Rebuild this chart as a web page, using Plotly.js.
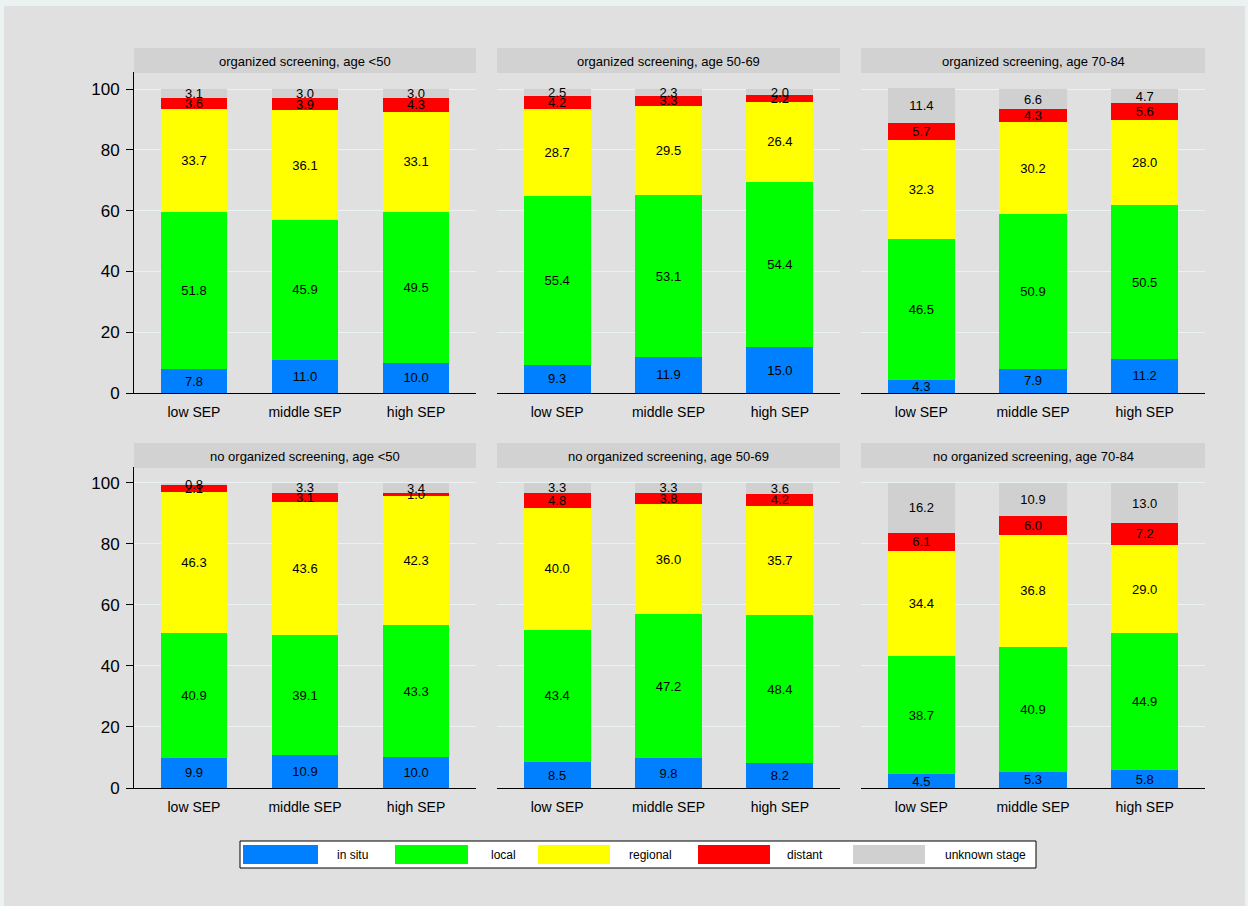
<!DOCTYPE html>
<html>
<head>
<meta charset="utf-8">
<script src="https://cdn.plot.ly/plotly-3.0.1.min.js"></script>
<style>html,body{margin:0;padding:0;background:#eaf2f2;}#chart{width:1248px;height:906px;}</style>
</head>
<body>
<div id="chart"></div>
<script>
const categories = ['low SEP', 'middle SEP', 'high SEP'];
const stages = ['in situ', 'local', 'regional', 'distant', 'unknown stage'];
const stageColors = ['#0080ff', '#00ff00', '#ffff00', '#ff0000', '#d0d0d0'];
const panelTitles = [
  'organized screening, age <50', 'organized screening, age 50-69', 'organized screening, age 70-84',
  'no organized screening, age <50', 'no organized screening, age 50-69', 'no organized screening, age 70-84'
];
const yTicks = [0, 20, 40, 60, 80, 100];

// values per panel (low, middle, high SEP)
const inSitu   = [[7.8, 11.0, 10.0], [9.3, 11.9, 15.0], [4.3, 7.9, 11.2], [9.9, 10.9, 10.0], [8.5, 9.8, 8.2], [4.5, 5.3, 5.8]];
const local    = [[51.8, 45.9, 49.5], [55.4, 53.1, 54.4], [46.5, 50.9, 50.5], [40.9, 39.1, 43.3], [43.4, 47.2, 48.4], [38.7, 40.9, 44.9]];
const regional = [[33.7, 36.1, 33.1], [28.7, 29.5, 26.4], [32.3, 30.2, 28.0], [46.3, 43.6, 42.3], [40.0, 36.0, 35.7], [34.4, 36.8, 29.0]];
const distant  = [[3.6, 3.9, 4.3], [4.2, 3.3, 2.2], [5.7, 4.3, 5.6], [2.1, 3.1, 1.0], [4.8, 3.8, 4.2], [6.1, 6.0, 7.2]];
const unknown  = [[3.1, 3.0, 3.0], [2.5, 2.3, 2.0], [11.4, 6.6, 4.7], [0.8, 3.3, 3.4], [3.3, 3.3, 3.6], [16.2, 10.9, 13.0]];
const stageData = [inSitu, local, regional, distant, unknown];

const W = 1248, H = 906;
const px = x => x / W;
const py = y => 1 - y / H;

const colX = [[134, 476], [497, 840], [861, 1205]];
const rowY = [[72, 393], [467, 788]];
const stripY = [[48, 73], [443, 468]];

const traces = [];
const layout = {
  width: W, height: H,
  margin: {l: 0, r: 0, t: 0, b: 0},
  paper_bgcolor: '#eaf2f2',
  plot_bgcolor: '#ffffff',
  barmode: 'stack',
  showlegend: false,
  font: {family: 'Liberation Sans, Arial, sans-serif', color: '#000', size: 13},
  uniformtext: {mode: 'show', minsize: 13},
  shapes: [],
  annotations: []
};

layout.shapes.push({type: 'rect', xref: 'paper', yref: 'paper', x0: px(4), x1: px(1245), y0: py(906), y1: py(6),
  fillcolor: '#e0e0e0', line: {width: 0}, layer: 'below'});

for (let p = 0; p < 6; p++) {
  const r = Math.floor(p / 3), c = p % 3;
  const ax = p === 0 ? '' : String(p + 1);
  stages.forEach((s, k) => {
    const vals = stageData[k][p];
    traces.push({
      type: 'bar', name: s, x: categories, y: vals,
      xaxis: 'x' + ax, yaxis: 'y' + ax,
      marker: {color: stageColors[k], line: {width: 0}},
      width: 0.6,
      text: vals.map(v => v.toFixed(1)),
      textposition: 'inside', insidetextanchor: 'middle',
      textangle: 0,
      textfont: {color: '#000', size: 13, family: 'Liberation Sans, Arial, sans-serif'},
      hoverinfo: 'skip'
    });
  });
  layout['xaxis' + ax] = {
    domain: [px(colX[c][0]), px(colX[c][1])],
    anchor: 'y' + ax,
    range: [-0.54, 2.54],
    showline: true, linecolor: '#000', linewidth: 1,
    ticks: 'outside', ticklen: 6, tickcolor: 'rgba(0,0,0,0)',
    tickfont: {size: 14},
    showgrid: false, zeroline: false, fixedrange: true
  };
  layout['yaxis' + ax] = {
    domain: [py(rowY[r][1]), py(rowY[r][0])],
    anchor: 'x' + ax,
    range: [0, r === 0 ? 105.6 : 105.2],
    tickvals: yTicks,
    showticklabels: c === 0,
    ticks: c === 0 ? 'outside' : '',
    ticklen: 7, tickcolor: '#000',
    ticklabelstandoff: 3,
    showline: c === 0, linecolor: '#000', linewidth: 1,
    tickfont: {size: 17},
    showgrid: true, gridcolor: '#eaf2f3', gridwidth: 1,
    zeroline: false, fixedrange: true
  };
  layout.shapes.push({type: 'rect', xref: 'paper', yref: 'paper',
    x0: px(colX[c][0]), x1: px(colX[c][1]), y0: py(stripY[r][1]), y1: py(stripY[r][0]),
    fillcolor: '#d2d2d2', line: {width: 0}});
  layout.annotations.push({xref: 'paper', yref: 'paper',
    x: px((colX[c][0] + colX[c][1]) / 2), y: py((stripY[r][0] + stripY[r][1]) / 2 + 1),
    text: panelTitles[p], showarrow: false, font: {size: 13}, xanchor: 'center', yanchor: 'middle'});
}

// legend box
const legBox = [240, 1036, 841, 868];
layout.shapes.push({type: 'rect', xref: 'paper', yref: 'paper',
  x0: px(legBox[0]), x1: px(legBox[1]), y0: py(legBox[3]), y1: py(legBox[2]),
  fillcolor: '#ffffff', line: {color: '#000', width: 1}});
const swatchX = [[243, 318], [395, 468], [538, 610], [698, 770], [853, 925]];
const labelX = [352, 503, 650, 805, 985];
stages.forEach((s, k) => {
  layout.shapes.push({type: 'rect', xref: 'paper', yref: 'paper',
    x0: px(swatchX[k][0]), x1: px(swatchX[k][1]), y0: py(864), y1: py(845),
    fillcolor: stageColors[k], line: {width: 0}});
  layout.annotations.push({xref: 'paper', yref: 'paper', x: px(labelX[k]), y: py(854.5),
    text: s, showarrow: false, font: {size: 12}, xanchor: 'center', yanchor: 'middle'});
});

Plotly.newPlot('chart', traces, layout, {displayModeBar: false, staticPlot: true});
</script>
</body>
</html>
